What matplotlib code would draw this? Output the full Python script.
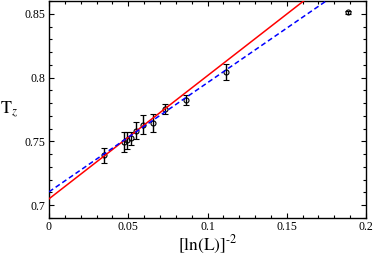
import matplotlib

matplotlib.use("Agg")
import matplotlib.pyplot as plt
import numpy as np
from matplotlib.ticker import MultipleLocator

# data: x = [ln(L)]^-2, T_z with error bars
inv_log2 = [0.035, 0.0475, 0.0493, 0.0517, 0.0550, 0.0595, 0.0654, 0.0735, 0.0865, 0.1118, 0.1888]
t_z = [0.739, 0.7497, 0.7508, 0.7525, 0.7585, 0.7632, 0.7642, 0.7752, 0.7826, 0.8045, 0.8510]
t_err = [0.0058, 0.0078, 0.0065, 0.0052, 0.0068, 0.0077, 0.0070, 0.0040, 0.0040, 0.0063, 0.0010]

# linear fits (intercept, slope)
fit_red = [0.705, 0.965]
fit_blue = [0.7105, 0.855]

plt.rcParams["font.family"] = ["Liberation Serif", "DejaVu Serif"]
plt.rcParams["mathtext.fontset"] = "stix"
plt.rcParams["lines.scale_dashes"] = False

fig = plt.figure(figsize=(3.74, 2.57), dpi=100)
ax = fig.add_axes([49 / 374, 39 / 257, 317 / 374, 217 / 257])

xs = np.array([0.0, 0.2])
ax.plot(xs, fit_red[0] + fit_red[1] * xs, color="#ff0000", lw=1.1, zorder=3)
ax.plot(xs, fit_blue[0] + fit_blue[1] * xs, color="#0000ff", lw=1.1,
        dashes=(3.6, 2.2), zorder=3)
ax.errorbar(inv_log2, t_z, yerr=t_err, fmt="o", color="black", ms=3.6,
            mfc="none", mew=0.8, elinewidth=1.0, capsize=2.2, capthick=1.0,
            zorder=2)

ax.set_xlim(0, 0.2)
ax.set_ylim(0.69, 0.86)
ax.xaxis.set_minor_locator(MultipleLocator(0.01))
ax.yaxis.set_minor_locator(MultipleLocator(0.01))
ax.set_xticks([0, 0.05, 0.1, 0.15, 0.2])
ax.set_xticklabels(["0", "0.05", "0.1", "0.15", "0.2"])
ax.set_yticks([0.7, 0.75, 0.8, 0.85])
ax.set_yticklabels(["0.7", "0.75", "0.8", "0.85"])

ax.tick_params(which="both", direction="in", top=True, right=True,
               labelsize=8.6, pad=2.5, width=0.8)
ax.tick_params(which="major", length=3.6)
ax.tick_params(which="minor", length=2.0)
for s in ax.spines.values():
    s.set_linewidth(1.0)

ax.set_xlabel(r"$\mathrm{[ln(L)]}^{\text{-}2}$", fontsize=12.5)
ax.xaxis.set_label_coords(0.5, -0.075)
ax.set_ylabel(r"$\mathrm{T}_z$", fontsize=13, rotation=0, ha="center", va="center")
ax.yaxis.set_label_coords(-0.125, 0.5)

fig.savefig("out.png", dpi=100)
